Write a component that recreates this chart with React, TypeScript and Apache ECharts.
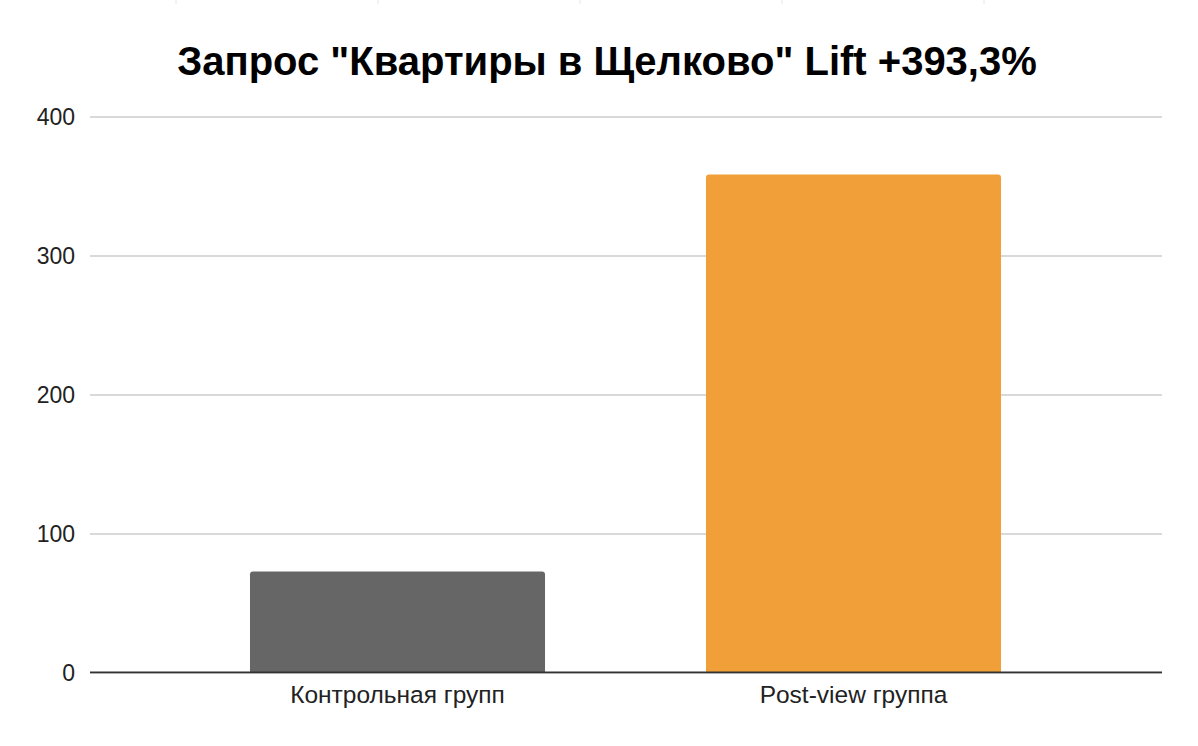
import React, { useEffect, useRef } from "react";
import * as echarts from "echarts";

const categories = ["Контрольная групп", "Post-view группа"];
const values = [72.7, 358.6];
const barColors = ["#666666", "#f1a039"];
const titleText = 'Запрос "Квартиры в Щелково" Lift +393,3%';
const topTickXs = [176, 378, 580, 782, 984];

export default function App() {
  const ref = useRef<HTMLDivElement>(null);
  useEffect(() => {
    document.body.style.margin = "0";
    const chart = echarts.init(ref.current!, null, { renderer: "svg" });
    const font = "Liberation Sans, Arial, Helvetica, sans-serif";
    chart.setOption({
      animation: false,
      backgroundColor: "#ffffff",
      title: {
        text: titleText,
        left: 602,
        top: 36,
        textAlign: "center",
        textStyle: { fontFamily: font, fontSize: 40, fontWeight: "bold", color: "#000" },
      },
      graphic: topTickXs.map((x) => ({
        type: "line",
        shape: { x1: x, y1: 0, x2: x, y2: 4 },
        style: { stroke: "#e6e6e6", lineWidth: 1 },
      })),
      grid: [
        { left: 90, right: 36, top: 117, bottom: 73.5 },
        { left: 169.5, right: 116.5, top: 117, bottom: 73.5 },
      ],
      xAxis: [
        {
          gridIndex: 0,
          type: "value",
          min: 0,
          max: 1,
          show: false,
        },
        {
          gridIndex: 1,
          type: "category",
          data: categories,
          axisTick: { show: false },
          axisLine: { show: false },
          axisLabel: { fontFamily: font, fontSize: 24.5, color: "#222", margin: 9 },
        },
      ],
      yAxis: [
        {
          gridIndex: 0,
          type: "value",
          min: 0,
          max: 400,
          interval: 100,
          axisLine: { show: false },
          axisTick: { show: false },
          axisLabel: { fontFamily: font, fontSize: 23, color: "#222", margin: 15 },
          splitLine: { lineStyle: { color: "#cccccc", width: 1.5 } },
        },
        {
          gridIndex: 1,
          type: "value",
          min: 0,
          max: 400,
          interval: 100,
          show: false,
          splitLine: { show: false },
        },
      ],
      series: [
        {
          type: "bar",
          xAxisIndex: 1,
          yAxisIndex: 1,
          data: values.map((v, i) => ({ value: v, itemStyle: { color: barColors[i] } })),
          barWidth: "64.7%",
          itemStyle: { borderRadius: [3, 3, 0, 0] },
          z: 3,
        },
        {
          type: "line",
          xAxisIndex: 0,
          yAxisIndex: 0,
          data: [[0, 0], [1, 0]],
          symbol: "none",
          lineStyle: { color: "#333333", width: 2 },
          z: 4,
          silent: true,
        },
      ],
    });
    return () => chart.dispose();
  }, []);
  return <div ref={ref} style={{ width: 1198, height: 746 }} />;
}
